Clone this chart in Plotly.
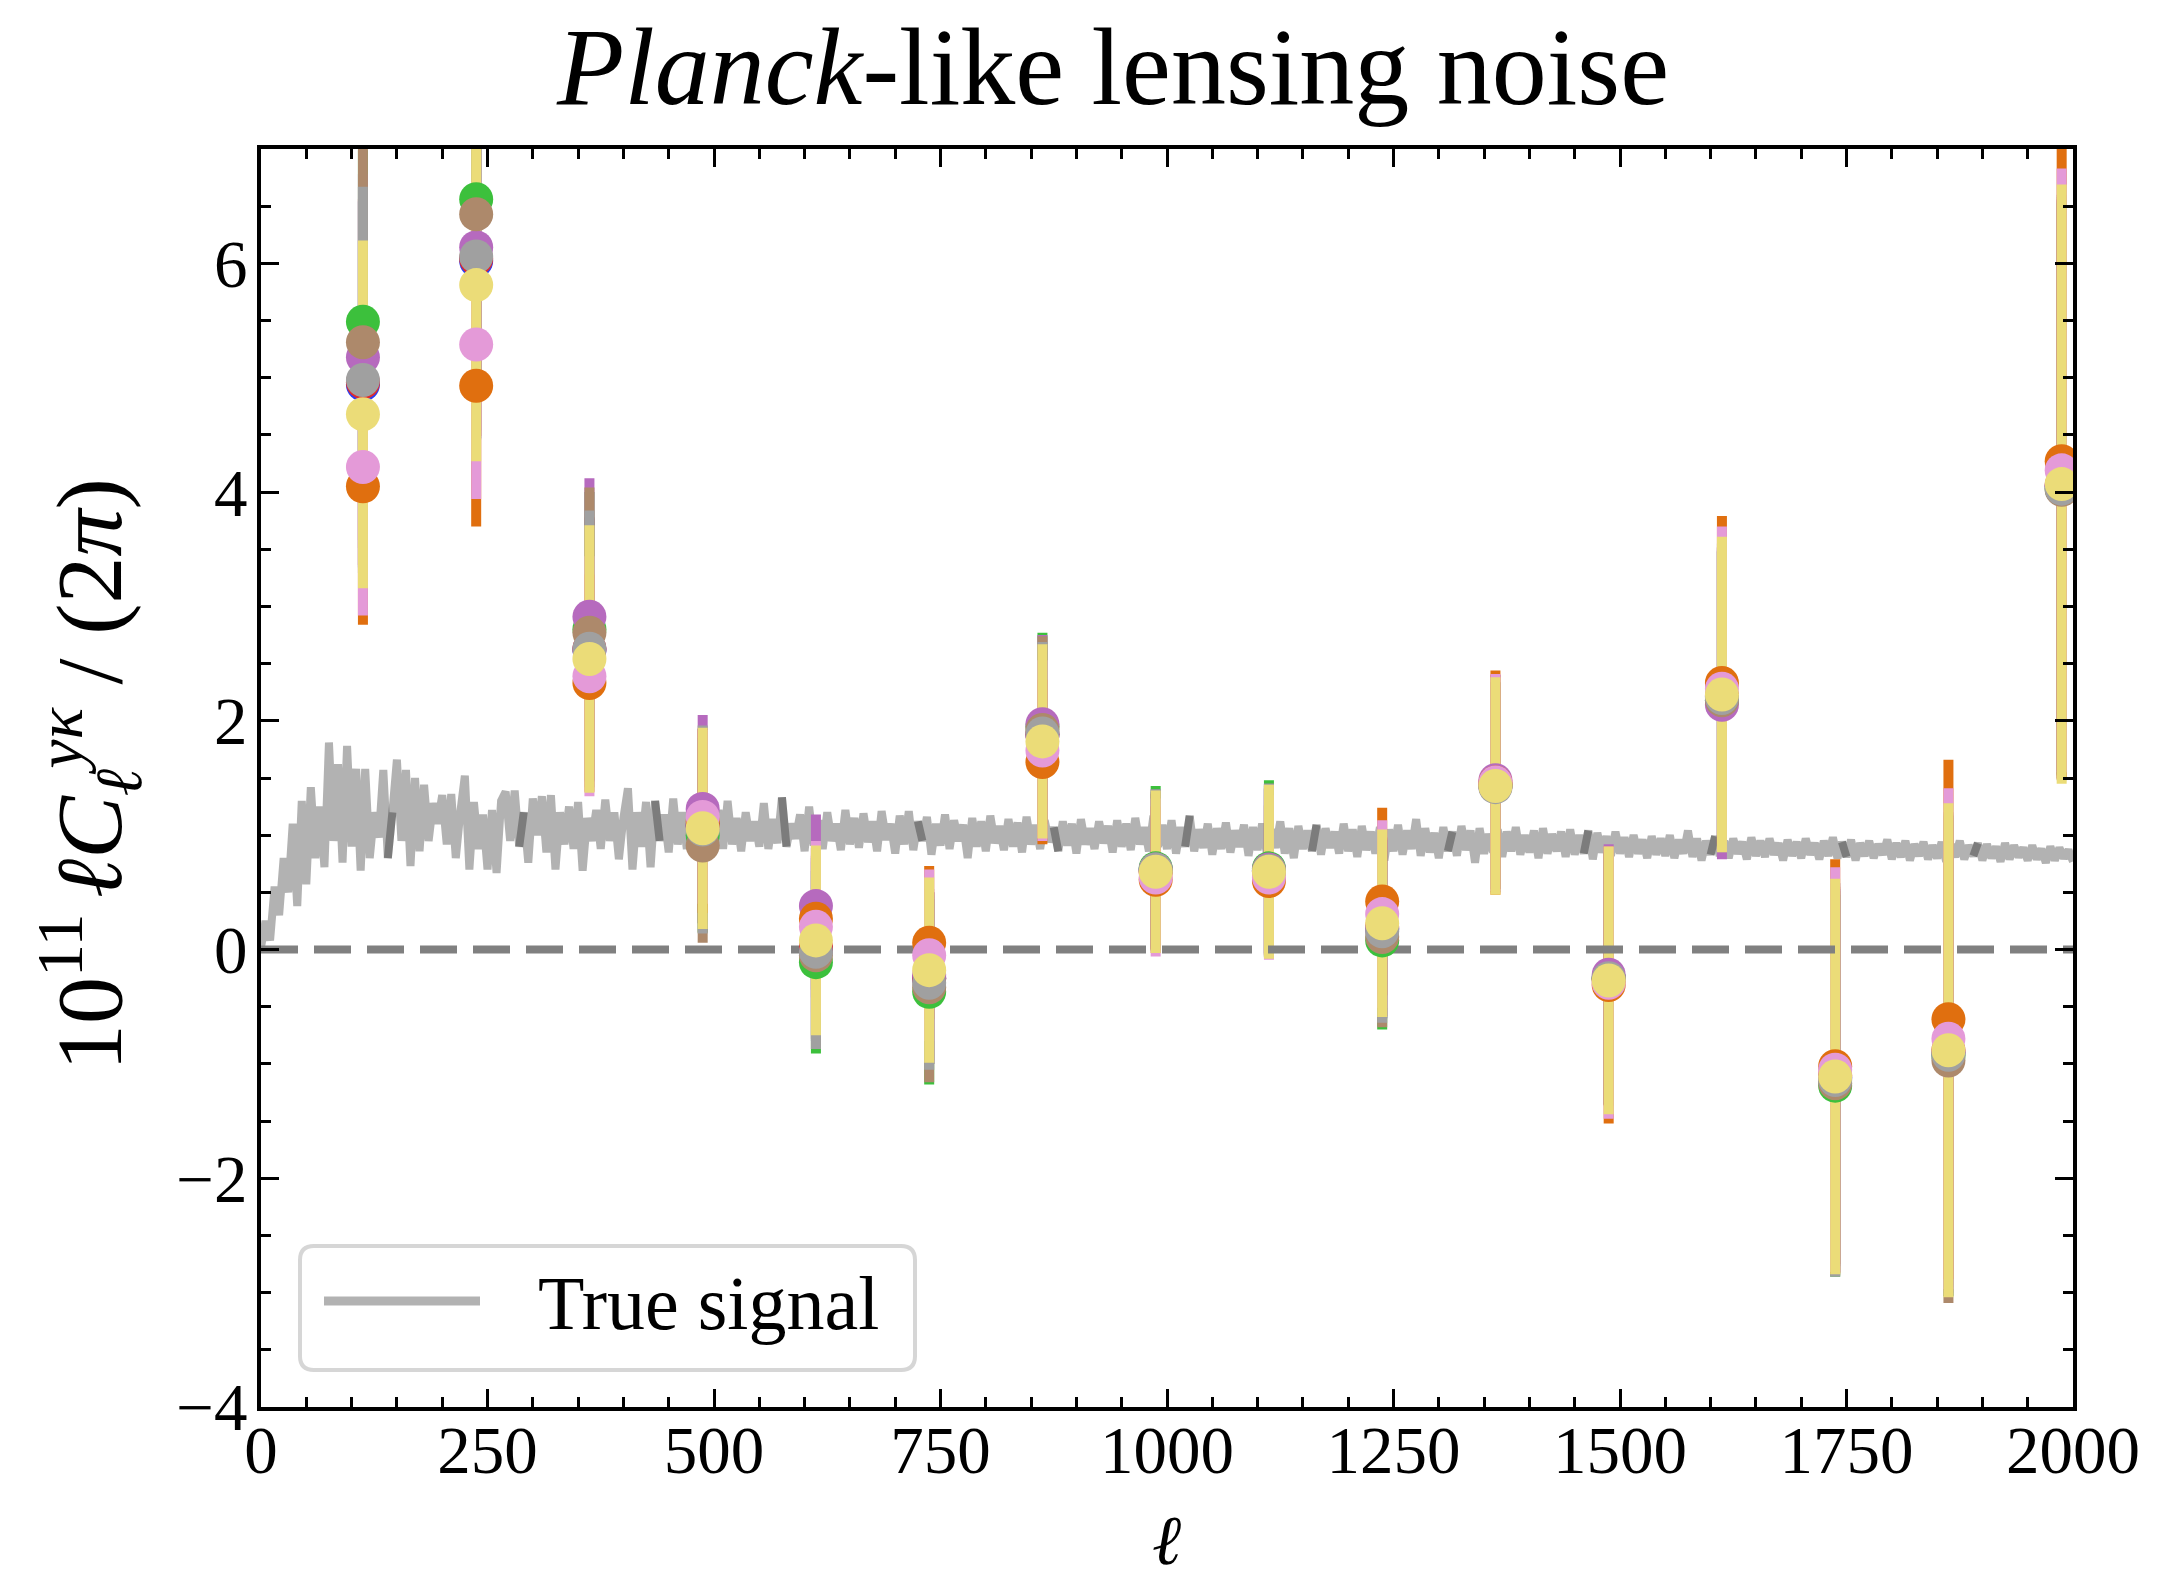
import plotly.graph_objects as go

# ---------------- figure geometry (pixels) ----------------
W, H = 2157, 1578
ML, MR, MT, MB = 261, 84, 149, 171
PW, PH = W - ML - MR, H - MT - MB

FONT = "Liberation Serif"

# ---------------- data ----------------
ell_bins = [112.5, 237.5, 362.5, 487.5, 612.5, 737.5, 862.5, 987.5,
            1112.5, 1237.5, 1362.5, 1487.5, 1612.5, 1737.5, 1862.5, 1987.5]

# measured band powers (x 1e11) and 1-sigma errors, one list per realisation
cl_blue = [4.94, 6.02, 2.62, 1.08, 0.00, -0.25, 1.88, 0.70, 0.69, 0.18, 1.43, -0.25, 2.21, -1.12, -0.90, 4.05]
err_blue = [1.60, 1.55, 1.15, 0.85, 0.80, 0.75, 0.78, 0.68, 0.72, 0.78, 0.90, 1.10, 1.30, 1.65, 2.05, 2.50]

cl_red = [4.96, 6.04, 2.63, 1.08, 0.02, -0.25, 1.88, 0.68, 0.68, 0.20, 1.43, -0.26, 2.22, -1.10, -0.88, 4.06]
err_red = [1.60, 1.55, 1.15, 0.85, 0.80, 0.75, 0.78, 0.68, 0.72, 0.78, 0.90, 1.10, 1.30, 1.65, 2.05, 2.50]

cl_green = [5.49, 6.56, 2.80, 1.00, -0.11, -0.37, 1.95, 0.71, 0.71, 0.08, 1.44, -0.25, 2.18, -1.19, -0.93, 4.03]
err_green = [1.50, 1.60, 1.20, 0.85, 0.80, 0.81, 0.82, 0.72, 0.77, 0.78, 0.90, 1.10, 1.30, 1.67, 2.10, 2.50]

cl_purple = [5.18, 6.14, 2.91, 1.23, 0.38, -0.22, 1.97, 0.70, 0.70, 0.18, 1.48, -0.22, 2.14, -1.12, -0.90, 4.05]
err_purple = [1.60, 1.60, 1.21, 0.82, 0.80, 0.75, 0.78, 0.70, 0.75, 0.78, 0.92, 1.14, 1.35, 1.70, 2.10, 2.55]

cl_brown = [5.31, 6.43, 2.77, 0.91, -0.05, -0.33, 1.92, 0.69, 0.69, 0.11, 1.44, -0.26, 2.18, -1.17, -0.97, 4.02]
err_brown = [1.80, 1.60, 1.27, 0.85, 0.82, 0.83, 0.82, 0.68, 0.74, 0.79, 0.90, 1.10, 1.30, 1.68, 2.12, 2.50]

cl_gray = [4.98, 6.06, 2.63, 1.05, -0.02, -0.29, 1.89, 0.70, 0.69, 0.16, 1.42, -0.25, 2.20, -1.14, -0.92, 4.03]
err_gray = [1.69, 1.60, 1.21, 0.91, 0.85, 0.76, 0.80, 0.70, 0.76, 0.80, 0.92, 1.12, 1.35, 1.72, 2.10, 2.55]

cl_orange = [4.05, 4.93, 2.33, 1.12, 0.27, 0.06, 1.64, 0.61, 0.60, 0.42, 1.46, -0.31, 2.33, -1.02, -0.61, 4.27]
err_orange = [1.21, 1.23, 0.95, 0.80, 0.62, 0.67, 0.72, 0.64, 0.66, 0.82, 0.98, 1.21, 1.46, 1.81, 2.27, 2.78]

cl_pink = [4.22, 5.29, 2.39, 1.16, 0.20, -0.05, 1.74, 0.63, 0.63, 0.31, 1.46, -0.29, 2.28, -1.05, -0.78, 4.19]
err_pink = [1.30, 1.35, 1.05, 0.76, 0.75, 0.75, 0.79, 0.69, 0.72, 0.82, 0.95, 1.19, 1.42, 1.77, 2.19, 2.64]

cl_yellow = [4.68, 5.81, 2.54, 1.06, 0.08, -0.18, 1.82, 0.68, 0.68, 0.23, 1.43, -0.27, 2.23, -1.11, -0.88, 4.07]
err_yellow = [1.52, 1.54, 1.17, 0.88, 0.83, 0.81, 0.85, 0.71, 0.76, 0.82, 0.95, 1.17, 1.38, 1.73, 2.16, 2.62]

series = [
    ("#2b3df2", cl_blue, err_blue),
    ("#e02b2b", cl_red, err_red),
    ("#3cc03c", cl_green, err_green),
    ("#b66abe", cl_purple, err_purple),
    ("#ad896b", cl_brown, err_brown),
    ("#a0a0a0", cl_gray, err_gray),
    ("#e06f0f", cl_orange, err_orange),
    ("#e49ad8", cl_pink, err_pink),
    ("#ebdc78", cl_yellow, err_yellow),
]

# true cross-spectrum (x 1e11), sampled every 5 multipoles
signal_ell = list(range(0, 2001, 5))
signal = [
    # 0 - 495
    0.02, 0.25, 0.08, 0.55, 0.30, 0.80, 0.50, 1.10, 0.38, 1.30,
    0.57, 1.42, 0.80, 1.25, 0.72, 1.81, 0.95, 1.62, 0.76, 1.78,
    0.90, 1.58, 0.69, 1.58, 0.80, 1.20, 0.98, 1.57, 0.80, 1.20,
    1.66, 0.95, 1.57, 0.73, 1.50, 0.86, 1.44, 0.95, 1.28, 1.10,
    1.35, 0.92, 1.36, 0.80, 1.20, 1.52, 0.70, 1.29, 0.88, 1.18,
    0.70, 1.22, 0.67, 1.30, 1.38, 0.95, 1.39, 0.90, 1.20, 0.76,
    1.32, 1.00, 1.34, 0.85, 1.35, 0.70, 1.20, 0.92, 1.25, 0.88,
    1.29, 0.69, 1.15, 0.95, 1.22, 0.88, 1.31, 0.95, 1.20, 0.79,
    1.15, 1.41, 0.70, 1.20, 0.90, 1.29, 0.72, 1.30, 0.95, 1.18,
    0.85, 1.32, 0.92, 1.20, 0.88, 1.28, 0.80, 1.15, 0.95, 1.22,
    # 500 - 995
    0.85,
    1.22, 0.88, 1.30, 0.92, 1.15, 0.86, 1.20, 0.95, 1.12, 0.90,
    1.28, 0.88, 1.14, 0.93, 1.33, 0.90, 1.10, 0.97, 1.18, 0.86,
    1.25, 0.91, 1.13, 0.88, 1.20, 0.95, 1.10, 0.87, 1.22, 0.92,
    1.15, 0.89, 1.19, 0.94, 1.12, 0.86, 1.21, 0.96, 1.10, 0.84,
    1.17, 0.92, 1.21, 0.87, 1.12, 0.95, 1.16, 0.83, 1.10, 0.91,
    1.18, 0.88, 1.13, 0.95, 1.09, 0.80, 1.15, 0.90, 1.12, 0.86,
    1.17, 0.93, 1.08, 0.87, 1.14, 0.90, 1.11, 0.85, 1.16, 0.92,
    1.09, 0.88, 1.13, 0.94, 1.07, 0.86, 1.12, 0.91, 1.10, 0.84,
    1.14, 0.92, 1.06, 0.88, 1.12, 0.93, 1.08, 0.85, 1.13, 0.90,
    1.10, 0.87, 1.15, 0.92, 1.07, 0.86, 1.17, 0.90, 1.09, 0.88,
    # 1005 - 1500
    1.13, 0.84, 1.07, 0.90, 1.17, 0.86, 1.05, 0.89, 1.10, 0.83,
    1.06, 0.88, 1.11, 0.85, 1.04, 0.90, 1.09, 0.82, 1.07, 0.87,
    1.10, 0.85, 1.05, 0.89, 1.12, 0.84, 1.06, 0.80, 1.08, 0.88,
    1.04, 0.86, 1.09, 0.83, 1.06, 0.89, 1.03, 0.84, 1.10, 0.86,
    1.05, 0.81, 1.08, 0.87, 1.03, 0.84, 1.07, 0.78, 1.05, 0.86,
    1.09, 0.83, 1.04, 0.88, 1.14, 0.82, 1.06, 0.85, 1.02, 0.80,
    1.07, 0.86, 1.03, 0.82, 1.08, 0.87, 1.04, 0.76, 1.06, 0.84,
    1.01, 0.85, 1.05, 0.81, 1.03, 0.86, 1.07, 0.83, 1.00, 0.85,
    1.04, 0.80, 1.06, 0.84, 1.01, 0.86, 1.03, 0.81, 1.05, 0.83,
    1.00, 0.84, 1.04, 0.79, 1.02, 0.85, 0.99, 0.82, 1.03, 0.84,
    # 1505 - 2000
    0.98, 0.81, 1.00, 0.84, 0.96, 0.80, 0.99, 0.83, 0.97, 0.82,
    1.00, 0.80, 0.96, 0.84, 1.04, 0.81, 0.97, 0.78, 0.95, 0.83,
    0.99, 0.82, 0.95, 0.80, 0.97, 0.84, 0.94, 0.79, 0.98, 0.82,
    0.95, 0.81, 0.97, 0.83, 0.93, 0.78, 0.96, 0.82, 0.94, 0.80,
    0.97, 0.83, 0.93, 0.79, 0.95, 0.82, 0.98, 0.80, 0.94, 0.81,
    0.96, 0.78, 0.93, 0.82, 0.95, 0.80, 0.92, 0.83, 0.96, 0.79,
    0.93, 0.81, 0.95, 0.78, 0.92, 0.82, 0.94, 0.79, 0.91, 0.80,
    0.94, 0.77, 0.92, 0.81, 0.95, 0.79, 0.91, 0.82, 0.93, 0.78,
    0.92, 0.80, 0.90, 0.77, 0.93, 0.79, 0.91, 0.81, 0.89, 0.78,
    0.91, 0.79, 0.88, 0.76, 0.90, 0.78, 0.89, 0.80, 0.87, 0.77,
]

# the curve is stroked in pieces; neighbouring pieces overlap by one segment
chunk_edges = [142, 286, 433, 577, 725, 873, 1022, 1161, 1309, 1459, 1599, 1743, 1888]

# ---------------- helpers: pixel -> paper ----------------
def px(x):
    return (x - ML) / PW


def py(y):
    return (H - MB - y) / PH


fig = go.Figure()

# true signal (bottom layer)
n_sig = len(signal_ell)
cut_idx = [0]
for e in chunk_edges:
    cut_idx.append(min(range(n_sig), key=lambda i: abs(signal_ell[i] - e)))
cut_idx.append(n_sig - 1)
for a, b in zip(cut_idx[:-1], cut_idx[1:]):
    stop = min(b + 2, n_sig)
    fig.add_trace(go.Scatter(
        x=signal_ell[a:stop], y=signal[a:stop], mode="lines",
        line=dict(color="rgba(0,0,0,0.3)", width=8, simplify=False),
        showlegend=False, hoverinfo="skip"))

# error bars of every realisation
for color, vals, errs in series:
    fig.add_trace(go.Scatter(
        x=ell_bins, y=vals, mode="markers",
        marker=dict(size=1, opacity=0),
        error_y=dict(type="data", array=errs, visible=True,
                     color=color, thickness=10, width=0),
        showlegend=False, hoverinfo="skip"))

# zero line
fig.add_trace(go.Scatter(
    x=[0, 2000], y=[0, 0], mode="lines",
    line=dict(color="#808080", width=8, dash="37px,16px"),
    showlegend=False, hoverinfo="skip"))

# markers on top
for color, vals, errs in series:
    fig.add_trace(go.Scatter(
        x=ell_bins, y=vals, mode="markers",
        marker=dict(size=34, color=color, line=dict(width=0)),
        showlegend=False, hoverinfo="skip"))

axis_common = dict(
    showline=True, linewidth=4, linecolor="black", mirror="allticks",
    ticks="inside", ticklen=18, tickwidth=3, tickcolor="black",
    showgrid=False, zeroline=False,
    tickfont=dict(family=FONT, size=67, color="black"),
)
fig.update_xaxes(range=[0, 2000], tick0=0, dtick=250, ticklabelstandoff=-18,
                 minor=dict(ticks="inside", dtick=50, ticklen=10, tickwidth=3,
                            tickcolor="black", showgrid=False),
                 **axis_common)
fig.update_yaxes(range=[-4, 7], tick0=0, dtick=2, ticklabelstandoff=-4,
                 minor=dict(ticks="inside", dtick=0.5, ticklen=10, tickwidth=3,
                            tickcolor="black", showgrid=False),
                 **axis_common)

# legend box drawn by hand (rounded frame, long line sample)
x0, x1, y0, y1, r = 300, 915, 1246, 1370, 14


def rr_path(x0, y0, x1, y1, r):
    pts = [
        ("M", px(x0 + r), py(y0)),
        ("L", px(x1 - r), py(y0)),
        ("Q", px(x1), py(y0), px(x1), py(y0 + r)),
        ("L", px(x1), py(y1 - r)),
        ("Q", px(x1), py(y1), px(x1 - r), py(y1)),
        ("L", px(x0 + r), py(y1)),
        ("Q", px(x0), py(y1), px(x0), py(y1 - r)),
        ("L", px(x0), py(y0 + r)),
        ("Q", px(x0), py(y0), px(x0 + r), py(y0)),
    ]
    s = ""
    for p in pts:
        s += p[0] + " " + " ".join(f"{v:.5f}" for v in p[1:]) + " "
    return s + "Z"


fig.add_shape(type="path", path=rr_path(x0, y0, x1, y1, r), xref="paper", yref="paper",
              line=dict(color="#d6d6d6", width=4), fillcolor="rgba(255,255,255,0.8)")
fig.add_shape(type="line", xref="paper", yref="paper",
              x0=px(324), x1=px(480), y0=py(1301), y1=py(1301),
              line=dict(color="rgba(0,0,0,0.3)", width=9))
fig.add_annotation(text="True signal", xref="paper", yref="paper",
                   x=px(536), y=py(1303), xanchor="left", yanchor="middle",
                   showarrow=False, font=dict(family=FONT, size=76, color="black"))

# axis labels
fig.add_annotation(text="<i>ℓ</i>", xref="paper", yref="paper",
                   x=px(1166), y=py(1540), xanchor="center", yanchor="middle",
                   showarrow=False, font=dict(family=FONT, size=70, color="black"))
fig.add_annotation(
    text="10<sup>11</sup>\u2006<i>ℓC</i><sub><i>ℓ</i></sub><sup><i>yκ</i></sup>"
         " / (2<i>π</i>)",
    xref="paper", yref="paper", x=px(89), y=py(775),
    xanchor="center", yanchor="middle", textangle=-90, showarrow=False,
    font=dict(family=FONT, size=94, color="black"))

fig.update_layout(
    width=W, height=H,
    margin=dict(l=ML, r=MR, t=MT, b=MB, pad=0),
    paper_bgcolor="white", plot_bgcolor="white",
    showlegend=False,
    title=dict(text="<i>Planck</i>-like lensing noise", xref="paper", x=px(1113),
               xanchor="center", yref="container", y=1 - 65 / H, yanchor="middle",
               font=dict(family=FONT, size=110, color="black")),
)

fig.write_html("out.html")
